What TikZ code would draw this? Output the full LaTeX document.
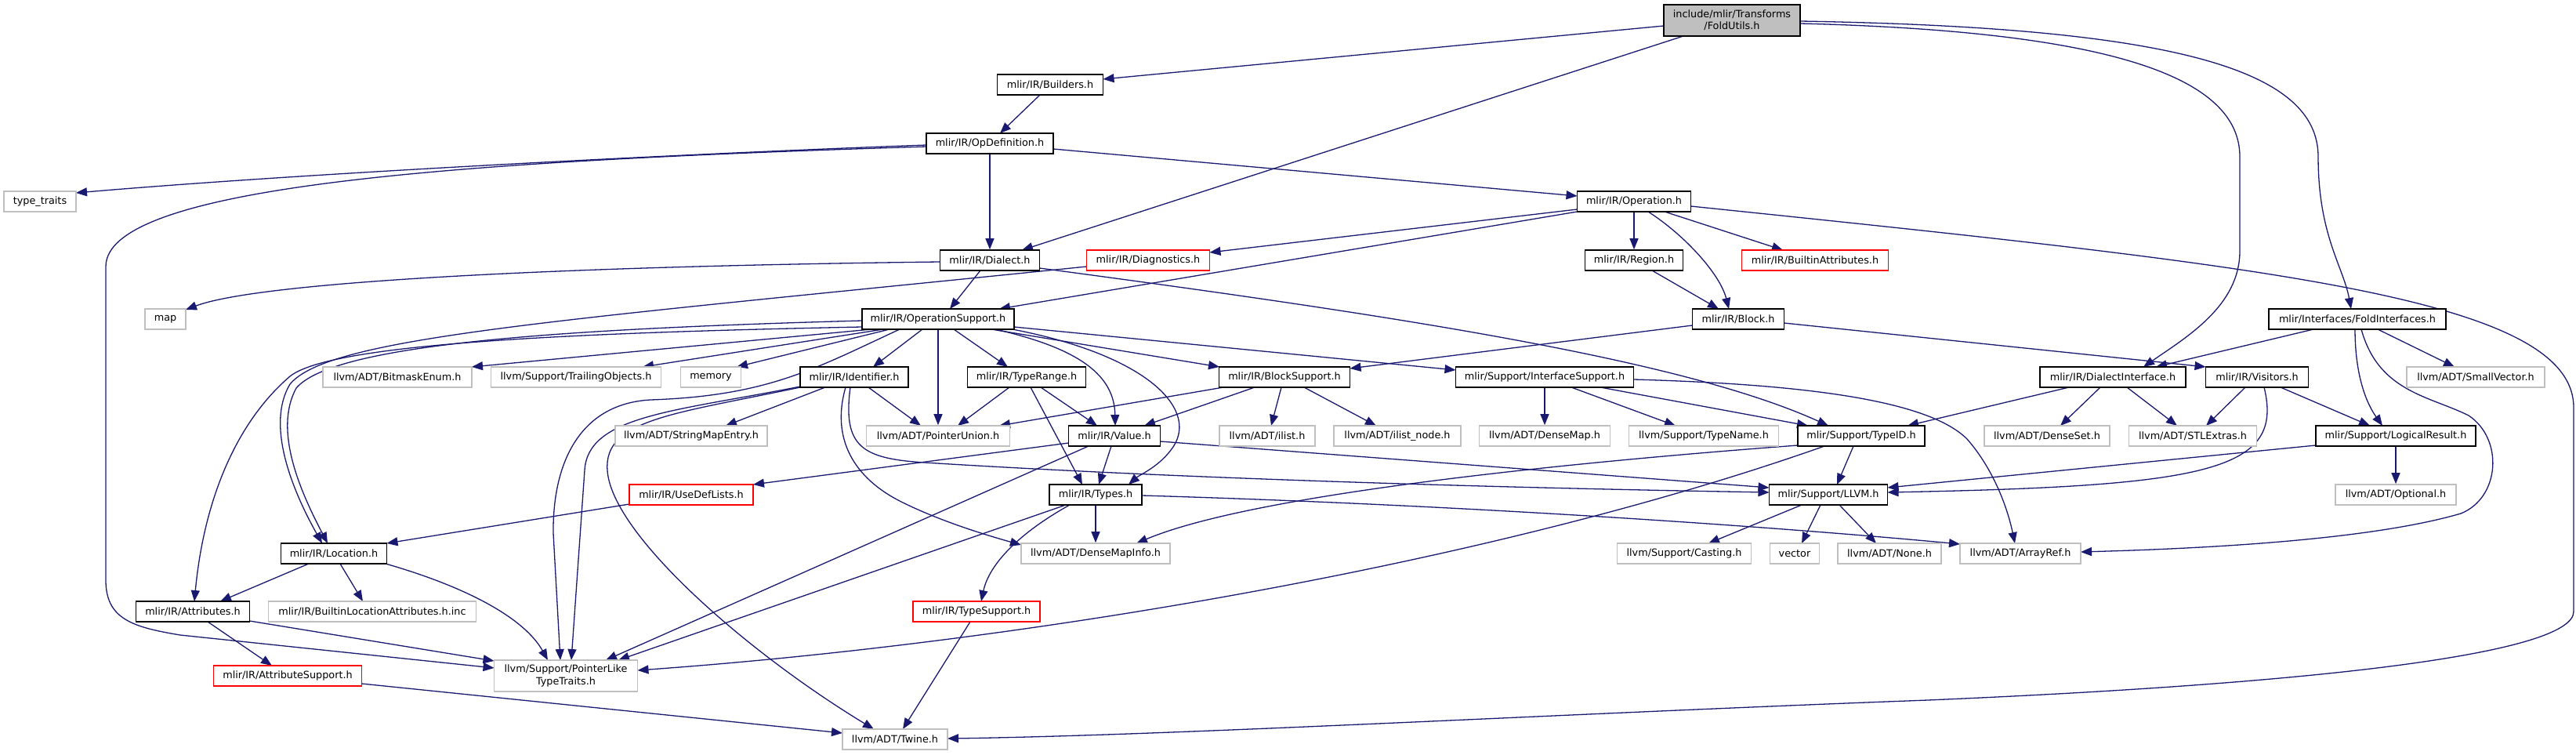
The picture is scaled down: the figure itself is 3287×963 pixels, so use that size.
\documentclass[tikz,border=0pt]{standalone}
\usepackage{fontspec}
\setmainfont{DejaVu Sans}
\usetikzlibrary{arrows.meta}
\definecolor{edgeblue}{HTML}{191970}
\definecolor{extgray}{HTML}{BFBFBF}
\definecolor{rootfill}{HTML}{BFBFBF}
\pgfdeclarelayer{bg}
\pgfsetlayers{bg,main}
\begin{document}
\begin{tikzpicture}[x=0.5pt,y=-0.5pt,font=\fontsize{6.4}{7.6}\selectfont,
  base/.style={rectangle,inner sep=0pt,minimum height=13pt,align=center,line width=0.8pt,fill=white},
  int/.style={base,draw=black},
  ext/.style={base,draw=extgray},
  trunc/.style={base,draw=red},
  rootn/.style={base,draw=black,fill=rootfill,minimum height=20pt},
  bw/.style={minimum width=#1*0.5pt},
  dep/.style={draw=edgeblue,line width=0.65pt,-{Triangle[length=7pt,width=5.5pt]}}]
\useasboundingbox (0,0) rectangle (3287,963);
% nodes
\node[rootn,bw=174] (root) at (2210,26) {include/mlir/Transforms\\/FoldUtils.h};
\node[int,bw=135] (bld) at (1340,108) {mlir/IR/Builders.h};
\node[int,bw=162] (opdef) at (1263,183) {mlir/IR/OpDefinition.h};
\node[ext,bw=92] (tt) at (51,257) {type\_traits};
\node[int,bw=145] (oper) at (2085,257) {mlir/IR/Operation.h};
\node[int,bw=127] (dial) at (1263,332) {mlir/IR/Dialect.h};
\node[trunc,bw=157] (diag) at (1465,332) {mlir/IR/Diagnostics.h};
\node[int,bw=125] (reg) at (2085,332) {mlir/IR/Region.h};
\node[trunc,bw=187] (batt) at (2316,332) {mlir/IR/BuiltinAttributes.h};
\node[ext,bw=52] (map) at (211,407) {map};
\node[int,bw=194] (ops) at (1197,407) {mlir/IR/OperationSupport.h};
\node[int,bw=117] (blk) at (2218,407) {mlir/IR/Block.h};
\node[int,bw=226] (fint) at (3008,407) {mlir/Interfaces/FoldInterfaces.h};
\node[ext,bw=190] (bme) at (507,481) {llvm/ADT/BitmaskEnum.h};
\node[ext,bw=217] (tro) at (735,481) {llvm/Support/TrailingObjects.h};
\node[ext,bw=77] (mem) at (907,481) {memory};
\node[int,bw=138] (idf) at (1090,481) {mlir/IR/Identifier.h};
\node[int,bw=151] (tr) at (1310,481) {mlir/IR/TypeRange.h};
\node[int,bw=167] (bs) at (1639,481) {mlir/IR/BlockSupport.h};
\node[int,bw=227] (is) at (1971,481) {mlir/Support/InterfaceSupport.h};
\node[int,bw=186] (di) at (2696,481) {mlir/IR/DialectInterface.h};
\node[int,bw=131] (vis) at (2880,481) {mlir/IR/Visitors.h};
\node[ext,bw=176] (sv) at (3159,481) {llvm/ADT/SmallVector.h};
\node[ext,bw=194] (sme) at (882,556) {llvm/ADT/StringMapEntry.h};
\node[ext,bw=183] (pu) at (1197,556) {llvm/ADT/PointerUnion.h};
\node[int,bw=117] (val) at (1422,556) {mlir/IR/Value.h};
\node[ext,bw=122] (il) at (1617,556) {llvm/ADT/ilist.h};
\node[ext,bw=162] (iln) at (1783,556) {llvm/ADT/ilist\_node.h};
\node[ext,bw=167] (dm) at (1971,556) {llvm/ADT/DenseMap.h};
\node[ext,bw=191] (tn) at (2174,556) {llvm/Support/TypeName.h};
\node[int,bw=162] (tid) at (2375,556) {mlir/Support/TypeID.h};
\node[ext,bw=160] (ds) at (2612,556) {llvm/ADT/DenseSet.h};
\node[ext,bw=163] (stl) at (2798,556) {llvm/ADT/STLExtras.h};
\node[int,bw=204] (lr) at (3057,556) {mlir/Support/LogicalResult.h};
\node[trunc,bw=158] (udl) at (882,631) {mlir/IR/UseDefLists.h};
\node[int,bw=118] (ty) at (1398,631) {mlir/IR/Types.h};
\node[int,bw=151] (llvm) at (2333,631) {mlir/Support/LLVM.h};
\node[ext,bw=154] (opt) at (3057,631) {llvm/ADT/Optional.h};
\node[int,bw=135] (loc) at (426,706) {mlir/IR/Location.h};
\node[ext,bw=190] (dmi) at (1398,706) {llvm/ADT/DenseMapInfo.h};
\node[ext,bw=171] (cast) at (2149,706) {llvm/Support/Casting.h};
\node[ext,bw=63] (vec) at (2290,706) {vector};
\node[ext,bw=132] (none) at (2411,706) {llvm/ADT/None.h};
\node[ext,bw=154] (ar) at (2578,706) {llvm/ADT/ArrayRef.h};
\node[int,bw=145] (attr) at (246,780) {mlir/IR/Attributes.h};
\node[ext,bw=265] (bla) at (475,780) {mlir/IR/BuiltinLocationAttributes.h.inc};
\node[trunc,bw=162] (tsup) at (1246,780) {mlir/IR/TypeSupport.h};
\node[trunc,bw=189] (asup) at (367,862) {mlir/IR/AttributeSupport.h};
\node[ext,bw=183,minimum height=20pt] (plt) at (722,862) {llvm/Support/PointerLike\\TypeTraits.h};
\node[ext,bw=134] (tw) at (1142,943) {llvm/ADT/Twine.h};
% edges
\begin{pgfonlayer}{bg}
\draw[dep] ([shift={(-87,7)}]root.center) -- ([shift={(67.5,-7)}]bld.center);
\draw[dep] ([shift={(-62,20)}]root.center) -- ([shift={(41,-13)}]dial.center);
\draw[dep] ([shift={(87,4)}]root.center) .. controls (2700,40) and (2858,100) .. (2858,200) -- (2858,320) .. controls (2858,390) and (2790,430) .. ([shift={(39,-13)}]di.center);
\draw[dep] ([shift={(87,1)}]root.center) .. controls (2780,35) and (2958,90) .. (2958,200) .. controls (2958,300) and (2990,340) .. ([shift={(-8,-13)}]fint.center);
\draw[dep] ([shift={(-13,13)}]bld.center) -- ([shift={(13,-13)}]opdef.center);
\draw[dep] ([shift={(-81,2)}]opdef.center) .. controls (900,195) and (400,220) .. ([shift={(46,-11)}]tt.center);
\draw[dep] ([shift={(-81,4)}]opdef.center) .. controls (600,205) and (135,235) .. (135,340) -- (135,740) .. controls (135,790) and (170,800) .. (230,810) -- ([shift={(-91.5,-10)}]plt.center);
\draw[dep] (opdef.south) -- (dial.north);
\draw[dep] ([shift={(81,7)}]opdef.center) -- ([shift={(-72.5,-7)}]oper.center);
\draw[dep] (oper.south) -- (reg.north);
\draw[dep] ([shift={(18,13)}]oper.center) .. controls (2150,300) and (2195,350) .. ([shift={(-12,-13)}]blk.center);
\draw[dep] ([shift={(39,13)}]oper.center) -- ([shift={(-41,-13)}]batt.center);
\draw[dep] ([shift={(-72.5,10)}]oper.center) -- ([shift={(78.5,-10)}]diag.center);
\draw[dep] ([shift={(-72.5,13)}]oper.center) -- ([shift={(78,-13)}]ops.center);
\draw[dep] ([shift={(72.5,6)}]oper.center) .. controls (2900,340) and (3284,380) .. (3284,520) -- (3284,780) .. controls (3284,830) and (3000,870) .. (2460,893) .. controls (2000,910) and (1500,938) .. ([shift={(67,-1)}]tw.center);
\draw[dep] ([shift={(-12,13)}]dial.center) -- ([shift={(15,-13)}]ops.center);
\draw[dep] ([shift={(-63.5,2)}]dial.center) .. controls (700,340) and (330,360) .. ([shift={(26,-12)}]map.center);
\draw[dep] ([shift={(63.5,10)}]dial.center) .. controls (1800,405) and (2150,460) .. ([shift={(-42,-13)}]tid.center);
\draw[dep] ([shift={(-78.5,8)}]diag.center) .. controls (700,410) and (420,430) .. (370,490) .. controls (340,540) and (370,620) .. ([shift={(-15,-13)}]loc.center);
\draw[dep] ([shift={(-97,2)}]ops.center) .. controls (700,420) and (425,440) .. (378,495) .. controls (348,550) and (385,630) .. ([shift={(-8,-13)}]loc.center);
\draw[dep] ([shift={(-97,10)}]ops.center) .. controls (700,425) and (420,440) .. (370,480) .. controls (300,540) and (260,640) .. ([shift={(2,-13)}]attr.center);
\draw[dep] ([shift={(-85,13)}]ops.center) -- ([shift={(95,-13)}]bme.center);
\draw[dep] ([shift={(-70,13)}]ops.center) -- ([shift={(85,-13)}]tro.center);
\draw[dep] ([shift={(-62,13)}]ops.center) -- ([shift={(33,-13)}]mem.center);
\draw[dep] ([shift={(-49,13)}]ops.center) .. controls (1040,470) and (980,505) .. (830,510) .. controls (740,515) and (705,590) .. (706,680) -- ([shift={(-7,-20)}]plt.center);
\draw[dep] ([shift={(-69,12)}]idf.center) .. controls (860,525) and (750,530) .. (746,600) -- ([shift={(7,-20)}]plt.center);
\draw[dep] ([shift={(-69,13)}]idf.center) .. controls (860,528) and (770,535) .. (775,600) .. controls (780,680) and (950,830) .. ([shift={(-27,-13)}]tw.center);
\draw[dep] ([shift={(-37,13)}]idf.center) -- ([shift={(44,-13)}]sme.center);
\draw[dep] ([shift={(18,13)}]idf.center) -- ([shift={(-22,-13)}]pu.center);
\draw[dep] ([shift={(-11,13)}]idf.center) .. controls (1060,560) and (1090,610) .. (1150,640) .. controls (1200,665) and (1260,683) .. ([shift={(-95,-11)}]dmi.center);
\draw[dep] ([shift={(-5,13)}]idf.center) .. controls (1075,570) and (1100,585) .. (1180,590) .. controls (1500,610) and (1900,622) .. ([shift={(-75.5,-3)}]llvm.center);
\draw[dep] ([shift={(-20,13)}]ops.center) -- ([shift={(24,-13)}]idf.center);
\draw[dep] (ops.south) -- (pu.north);
\draw[dep] ([shift={(20,13)}]ops.center) -- ([shift={(-24,-13)}]tr.center);
\draw[dep] ([shift={(73,13)}]ops.center) .. controls (1380,445) and (1422,480) .. ([shift={(1,-13)}]val.center);
\draw[dep] ([shift={(84,11)}]ops.center) .. controls (1460,450) and (1530,520) .. (1497,570) .. controls (1480,595) and (1455,605) .. ([shift={(42,-13)}]ty.center);
\draw[dep] ([shift={(68,13)}]ops.center) -- ([shift={(-83,-13)}]bs.center);
\draw[dep] ([shift={(97,10)}]ops.center) -- ([shift={(-113.5,-9)}]is.center);
\draw[dep] ([shift={(-22,13)}]tr.center) -- ([shift={(25,-13)}]pu.center);
\draw[dep] ([shift={(18,13)}]tr.center) -- ([shift={(-22,-13)}]val.center);
\draw[dep] ([shift={(5,13)}]tr.center) -- ([shift={(-17,-13)}]ty.center);
\draw[dep] ([shift={(-58.5,9)}]val.center) -- ([shift={(79,-13)}]udl.center);
\draw[dep] ([shift={(-4,13)}]val.center) -- ([shift={(4,-13)}]ty.center);
\draw[dep] ([shift={(-33,13)}]val.center) -- ([shift={(51,-20)}]plt.center);
\draw[dep] ([shift={(58.5,7)}]val.center) -- ([shift={(-75.5,-9)}]llvm.center);
\draw[dep] ([shift={(-38,13)}]ty.center) -- ([shift={(67,-20)}]plt.center);
\draw[dep] (ty.south) -- (dmi.north);
\draw[dep] ([shift={(-33,13)}]ty.center) .. controls (1300,680) and (1262,720) .. ([shift={(6,-13)}]tsup.center);
\draw[dep] ([shift={(59,1)}]ty.center) .. controls (1900,645) and (2300,675) .. ([shift={(-77,-12)}]ar.center);
\draw[dep] ([shift={(-10,13)}]tid.center) -- ([shift={(11,-13)}]llvm.center);
\draw[dep] ([shift={(-81,12)}]tid.center) .. controls (2000,590) and (1600,630) .. ([shift={(52,-13)}]dmi.center);
\draw[dep] ([shift={(-47,13)}]tid.center) .. controls (1900,720) and (1300,820) .. ([shift={(91.5,-7)}]plt.center);
\draw[dep] (is.south) -- (dm.north);
\draw[dep] ([shift={(34,13)}]is.center) -- ([shift={(-36,-13)}]tn.center);
\draw[dep] ([shift={(71,13)}]is.center) -- ([shift={(-68,-13)}]tid.center);
\draw[dep] ([shift={(113.5,3)}]is.center) .. controls (2300,490) and (2460,510) .. (2510,560) .. controls (2545,600) and (2562,650) .. ([shift={(-7,-13)}]ar.center);
\draw[dep] ([shift={(-78,13)}]bs.center) -- ([shift={(78,-13)}]pu.center);
\draw[dep] ([shift={(-38,13)}]bs.center) -- ([shift={(38,-13)}]val.center);
\draw[dep] ([shift={(-4,13)}]bs.center) -- ([shift={(5,-13)}]il.center);
\draw[dep] ([shift={(25,13)}]bs.center) -- ([shift={(-27,-13)}]iln.center);
\draw[dep] ([shift={(-58.5,8)}]blk.center) -- ([shift={(83.5,-11)}]bs.center);
\draw[dep] ([shift={(58.5,5)}]blk.center) -- ([shift={(-65.5,-13)}]vis.center);
\draw[dep] ([shift={(23,13)}]reg.center) -- ([shift={(-25,-13)}]blk.center);
\draw[dep] ([shift={(-56,13)}]di.center) -- ([shift={(59,-13)}]tid.center);
\draw[dep] ([shift={(-16,13)}]di.center) -- ([shift={(17,-13)}]ds.center);
\draw[dep] ([shift={(18,13)}]di.center) -- ([shift={(-20,-13)}]stl.center);
\draw[dep] ([shift={(-15,13)}]vis.center) -- ([shift={(17,-13)}]stl.center);
\draw[dep] ([shift={(30,13)}]vis.center) -- ([shift={(-33,-13)}]lr.center);
\draw[dep] ([shift={(9,13)}]vis.center) .. controls (2915,600) and (2820,620) .. ([shift={(75.5,-3)}]llvm.center);
\draw[dep] ([shift={(-102,12)}]lr.center) -- ([shift={(75.5,-9)}]llvm.center);
\draw[dep] (lr.south) -- (opt.north);
\draw[dep] ([shift={(-56,13)}]fint.center) -- ([shift={(55,-13)}]di.center);
\draw[dep] ([shift={(-3,13)}]fint.center) .. controls (3005,480) and (3020,515) .. ([shift={(-17,-13)}]lr.center);
\draw[dep] ([shift={(26,13)}]fint.center) -- ([shift={(-27,-13)}]sv.center);
\draw[dep] ([shift={(5,13)}]fint.center) .. controls (3035,500) and (3100,505) .. (3150,530) .. controls (3195,560) and (3190,635) .. (3140,655) .. controls (3020,690) and (2800,700) .. ([shift={(77,-2)}]ar.center);
\draw[dep] ([shift={(-34,13)}]llvm.center) -- ([shift={(31,-13)}]cast.center);
\draw[dep] ([shift={(-10,13)}]llvm.center) -- ([shift={(9,-13)}]vec.center);
\draw[dep] ([shift={(14,13)}]llvm.center) -- ([shift={(-17,-13)}]none.center);
\draw[dep] ([shift={(-32,13)}]loc.center) -- ([shift={(35,-13)}]attr.center);
\draw[dep] ([shift={(8,13)}]loc.center) -- ([shift={(-12,-13)}]bla.center);
\draw[dep] ([shift={(66,13)}]loc.center) .. controls (600,750) and (670,790) .. ([shift={(-23,-20)}]plt.center);
\draw[dep] ([shift={(19,13)}]attr.center) -- ([shift={(-20,-13)}]asup.center);
\draw[dep] ([shift={(72.5,12)}]attr.center) -- ([shift={(-91.5,-19)}]plt.center);
\draw[dep] ([shift={(94.5,10)}]asup.center) -- ([shift={(-67,-8)}]tw.center);
\draw[dep] ([shift={(-8,13)}]tsup.center) -- ([shift={(10,-13)}]tw.center);
\draw[dep] ([shift={(-79,12)}]udl.center) -- ([shift={(67.5,-13)}]loc.center);
\end{pgfonlayer}
\end{tikzpicture}
\end{document}
